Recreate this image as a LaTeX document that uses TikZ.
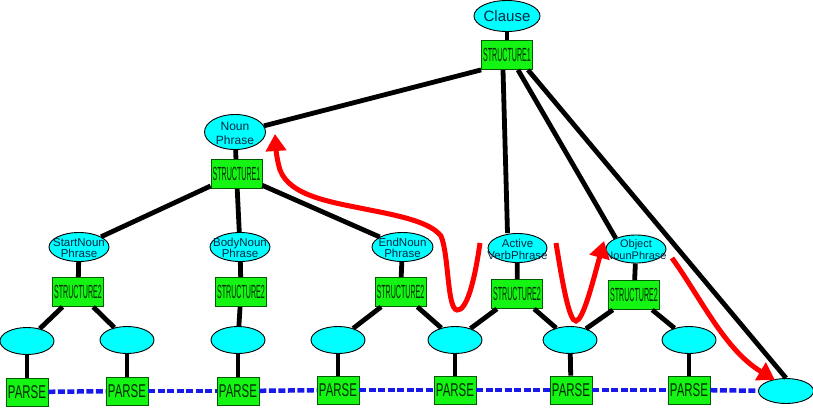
\documentclass[tikz,border=0pt]{standalone}
\usepackage{fontspec}
\setmainfont{Liberation Sans}
\usetikzlibrary{shapes.geometric,arrows.meta}
\definecolor{ellfill}{RGB}{0,255,255}
\definecolor{elltext}{RGB}{0,40,70}
\definecolor{boxfill}{RGB}{20,245,20}
\definecolor{boxedge}{RGB}{0,90,0}
\definecolor{boxtext}{RGB}{0,45,0}
\definecolor{dashblue}{RGB}{25,25,235}
\definecolor{arrred}{RGB}{255,0,0}
\tikzset{
  ell/.style={ellipse, draw=black, line width=0.9pt, fill=ellfill, inner sep=0pt},
  phr/.style={ell, minimum width=60, minimum height=29},
  bot/.style={ell, minimum width=54, minimum height=27},
  ptext/.style={align=center, text=elltext, inner sep=0pt, font=\fontsize{11.5}{11}\selectfont},
  sbox/.style={rectangle, draw=boxedge, line width=0.8pt, fill=boxfill, inner sep=0pt, minimum width=51, minimum height=29, text=boxtext, font=\fontsize{19}{19}\selectfont},
  pbox/.style={rectangle, draw=boxedge, line width=0.8pt, fill=boxfill, inner sep=0pt, minimum width=42, minimum height=28, text=boxtext, font=\fontsize{18.5}{18.5}\selectfont},
  edge/.style={line width=4.8pt, black},
  dashline/.style={line width=4.5pt, dashblue, dash pattern=on 7pt off 2.5pt},
  redarr/.style={line width=5pt, arrred, -{Triangle[length=17pt,width=20pt]}}
}
\newcommand{\stru}[1]{\scalebox{0.375}[1]{STRUCTURE#1}}
\newcommand{\prs}{\scalebox{0.62}[1]{PARSE}}
\begin{document}
\begin{tikzpicture}[x=1pt,y=-1pt]
\useasboundingbox (0,0) rectangle (813,407);
% nodes
\node[ell, minimum width=59, minimum height=31, text=elltext, font=\fontsize{15}{15}\selectfont] (cl) at (507,16) {Clause};
\node[sbox] (s0) at (507,55) {\stru{1}};
\node[ell, minimum width=61, minimum height=35] (np) at (235,132) {};
\node[ptext, font=\fontsize{12}{14}\selectfont] (npt) at (235,133) {Noun\\Phrase};
\node[sbox] (s1) at (236.5,174) {\stru{1}};

\node[phr] (sn) at (79,247) {};
\node[ptext] (snt) at (79,248) {StartNoun\\Phrase};
\node[phr] (bn) at (240,247) {};
\node[ptext] (bnt) at (240,248) {BodyNoun\\Phrase};
\node[phr, minimum width=61] (en) at (402.5,247) {};
\node[ptext] (ent) at (402.5,248) {EndNoun\\Phrase};
\node[phr, minimum width=59] (av) at (517.5,248) {};
\node[ptext, font=\fontsize{11.5}{12}\selectfont] (avt) at (517.5,249) {Active\\VerbPhrase};
\node[phr, minimum width=60, minimum height=28] (on) at (636,249) {};
\node[ptext, font=\fontsize{11}{12}\selectfont] (ont) at (636,250) {Object\\NounPhrase};

\node[sbox] (ss) at (78,292) {\stru{2}};
\node[sbox] (bs) at (241,292) {\stru{2}};
\node[sbox] (es) at (400.5,292) {\stru{2}};
\node[sbox] (as) at (517,294) {\stru{2}};
\node[sbox] (os) at (634,295) {\stru{2}};

\node[bot] (b1) at (27,341) {};
\node[bot] (b2) at (127,340) {};
\node[bot] (b3) at (238,340) {};
\node[bot] (b4) at (338,340) {};
\node[bot] (b5) at (455,340) {};
\node[bot] (b6) at (570,340) {};
\node[bot] (b7) at (689,340) {};
\node[ell, minimum width=55, minimum height=25] (fe) at (786,391) {};

\node[pbox] (p1) at (27,392) {\prs};
\node[pbox] (p2) at (127,391) {\prs};
\node[pbox] (p3) at (238,391) {\prs};
\node[pbox] (p4) at (338,390) {\prs};
\node[pbox] (p5) at (455,390) {\prs};
\node[pbox] (p6) at (571,390) {\prs};
\node[pbox] (p7) at (689,390) {\prs};

% black edges
\draw[edge] (cl) -- (s0);
\draw[edge] (s0.south west) -- (np.12);
\draw[edge] ([xshift=-4pt]s0.south) -- ([xshift=-10pt]av.north);
\draw[edge] ([xshift=11pt]s0.south) -- (on.152);
\draw[edge] ([xshift=21pt]s0.south) -- (fe.north);
\draw[edge] (np) -- (s1);
\draw[edge] (s1) -- (sn);
\draw[edge] (s1) -- (bn);
\draw[edge] (s1) -- (en);
\draw[edge] (sn) -- (ss);
\draw[edge] (bn) -- (bs);
\draw[edge] (en) -- (es);
\draw[edge] (av) -- (as);
\draw[edge] (on) -- (os);
\draw[edge] (ss) -- (b1);
\draw[edge] (ss) -- (b2);
\draw[edge] (bs) -- (b3);
\draw[edge] (es) -- (b4);
\draw[edge] (es) -- (b5);
\draw[edge] (as) -- (b5);
\draw[edge] (as) -- (b6);
\draw[edge] (os) -- (b6);
\draw[edge] (os) -- (b7);
\draw[edge] (b1) -- (p1);
\draw[edge] (b2) -- (p2);
\draw[edge] (b3) -- (p3);
\draw[edge] (b4) -- (p4);
\draw[edge] (b5) -- (p5);
\draw[edge] (b6) -- (p6);
\draw[edge] (b7) -- (p7);

% blue dashed
\draw[dashline] (p1) -- (p2);
\draw[dashline] (p2) -- (p3);
\draw[dashline] (p3) -- (p4);
\draw[dashline] (p4) -- (p5);
\draw[dashline] (p5) -- (p6);
\draw[dashline] (p6) -- (p7);
\draw[dashline] (p7) -- (fe);

% red arrows
\coordinate (r1s) at (480,243);
\coordinate (r1e) at (275,134);
\draw[redarr] (r1s) .. controls (474,285) and (466,311) .. (457,310)
  .. controls (447,309) and (449,255) .. (441,236)
  .. controls (430,222) and (400,216) .. (370,210)
  .. controls (330,202) and (290,196) .. (280,170)
  .. controls (277,160) and (276,150) .. (r1e);
\coordinate (r2s) at (556,243);
\coordinate (r2e) at (604,241);
\draw[redarr] (r2s) .. controls (562,280) and (569,322) .. (576,321)
  .. controls (583,320) and (592,285) .. (r2e);
\coordinate (r3s) at (672,258);
\coordinate (r3e) at (775,380);
\draw[redarr] (r3s) .. controls (702,300) and (725,350) .. (r3e);
\end{tikzpicture}
\end{document}
